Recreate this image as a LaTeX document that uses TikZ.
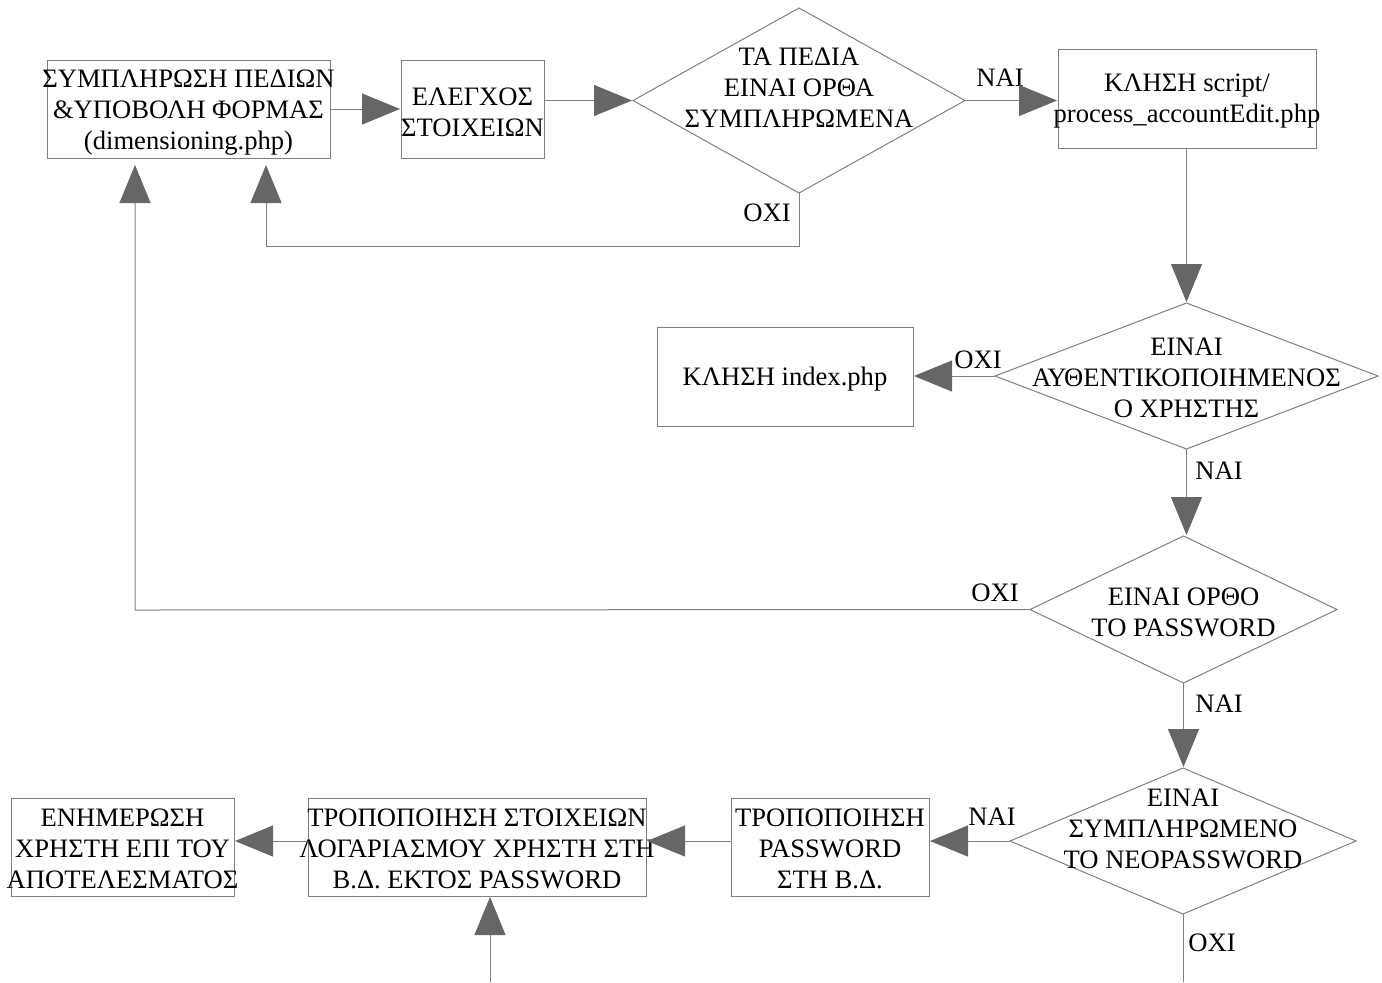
\documentclass[tikz,border=0pt]{standalone}
\usepackage{fontspec}
\setmainfont{Liberation Serif}
\usetikzlibrary{shapes.geometric,arrows.meta}
\definecolor{linegray}{HTML}{808080}
\definecolor{tipgray}{HTML}{666666}
\begin{document}
\begin{tikzpicture}[x=0.5pt,y=-0.5pt,
  box/.style={draw=linegray, line width=0.5pt, inner sep=0pt, outer sep=0pt},
  dec/.style={diamond, draw=linegray, line width=0.5pt, inner sep=0pt, outer sep=0pt},
  txt/.style={align=center, font=\fontsize{13.3pt}{15.5pt}\selectfont, inner sep=0pt},
  lbl/.style={font=\fontsize{13.3pt}{15.5pt}\selectfont, inner sep=0pt},
  line/.style={draw=linegray, line width=0.5pt},
  flow/.style={line, -{Triangle[length=19pt,width=15.5pt,color=tipgray]}, shorten >=0.5pt}]
\useasboundingbox (0,0) rectangle (1382,982);

% boxes and decisions
\node[box, minimum width=141.5pt, minimum height=49pt] (b1) at (188.5,109) {};
\node[box, minimum width=71.5pt, minimum height=49pt] (b2) at (472.5,109) {};
\node[dec, minimum width=166pt, minimum height=92.5pt] (d1) at (799,100.5) {};
\node[box, minimum width=129pt, minimum height=49.5pt] (b3) at (1187,98.5) {};
\node[dec, minimum width=191.5pt, minimum height=73pt] (d2) at (1186.5,376) {};
\node[box, minimum width=128pt, minimum height=49.5pt] (b4) at (785,376.5) {};
\node[dec, minimum width=153.5pt, minimum height=73.5pt] (d3) at (1183.5,609.5) {};
\node[dec, minimum width=173pt, minimum height=73pt] (d4) at (1183,841) {};
\node[box, minimum width=99pt, minimum height=49pt] (b5) at (830,847) {};
\node[box, minimum width=169pt, minimum height=49pt] (b6) at (477,847) {};
\node[box, minimum width=111.5pt, minimum height=49pt] (b7) at (122.5,847) {};

% texts
\node[txt] (t1) at (188.5,113) {ΣΥΜΠΛΗΡΩΣΗ ΠΕΔΙΩΝ\\\&ΥΠΟΒΟΛΗ ΦΟΡΜΑΣ\\(dimensioning.php)};
\node[txt] (t2) at (472.5,112) {ΕΛΕΓΧΟΣ\\ΣΤΟΙΧΕΙΩΝ};
\node[txt] (t3) at (799,88) {ΤΑ ΠΕΔΙΑ\\ΕΙΝΑΙ ΟΡΘΑ\\ΣΥΜΠΛΗΡΩΜΕΝΑ};
\node[txt] (t4) at (1187,101.5) {ΚΛΗΣΗ script/\\process\_accountEdit.php};
\node[txt] (t5) at (1186.5,378) {ΕΙΝΑΙ\\ΑΥΘΕΝΤΙΚΟΠΟΙΗΜΕΝΟΣ\\Ο ΧΡΗΣΤΗΣ};
\node[txt] (t6) at (785,379.5) {ΚΛΗΣΗ index.php};
\node[txt] (t7) at (1183.5,612) {ΕΙΝΑΙ ΟΡΘΟ\\ΤΟ PASSWORD};
\node[txt] (t8) at (1183,829) {ΕΙΝΑΙ\\ΣΥΜΠΛΗΡΩΜΕΝΟ\\ΤΟ ΝΕΟPASSWORD};
\node[txt] (t9) at (830,849) {ΤΡΟΠΟΠΟΙΗΣΗ\\PASSWORD\\ΣΤΗ Β.Δ.};
\node[txt] (t10) at (477,849) {ΤΡΟΠΟΠΟΙΗΣΗ ΣΤΟΙΧΕΙΩΝ\\ΛΟΓΑΡΙΑΣΜΟΥ ΧΡΗΣΤΗ ΣΤΗ\\Β.Δ. ΕΚΤΟΣ PASSWORD};
\node[txt] (t11) at (122.5,849) {ΕΝΗΜΕΡΩΣΗ\\ΧΡΗΣΤΗ ΕΠΙ ΤΟΥ\\ΑΠΟΤΕΛΕΣΜΑΤΟΣ};

% branch labels
\node[lbl] (l1) at (1000,78) {ΝΑΙ};
\node[lbl] (l2) at (767,213) {ΟΧΙ};
\node[lbl] (l3) at (978,360) {ΟΧΙ};
\node[lbl] (l4) at (1219,471) {ΝΑΙ};
\node[lbl] (l5) at (995,593) {ΟΧΙ};
\node[lbl] (l6) at (1219,704) {ΝΑΙ};
\node[lbl] (l7) at (992,817) {ΝΑΙ};
\node[lbl] (l8) at (1212,943) {ΟΧΙ};

% routing points
\coordinate (k1) at (266,246);
\coordinate (k2) at (135,610);
\coordinate (e1) at (1183,982);
\coordinate (e2) at (490,982);

% connectors
\draw[flow] (b1.east) -- (b2.west);
\draw[flow] (d1.west -| b2.east) -- (d1.west);
\draw[flow] (d1.east) -- (d1.east -| b3.west);
\draw[flow, shorten >=3.5pt] (d1.south) |- (k1) -- (k1 |- b1.south);
\draw[flow] (b3.south -| d2.north) -- (d2.north);
\draw[flow] (d2.west) -- (d2.west -| b4.east);
\draw[flow] (d2.south) -- (d2.south |- d3.north);
\draw[flow, shorten >=3.5pt] (d3.west) -- (k2) -- (k2 |- b1.south);
\draw[flow] (d3.south) -- (d3.south |- d4.north);
\draw[flow] (d4.west) -- (d4.west -| b5.east);
\draw[flow] (b5.west |- d4.west) -- (d4.west -| b6.east);
\draw[flow] (b6.west |- d4.west) -- (d4.west -| b7.east);
\draw[line] (d4.south) -- (e1);
\draw[flow] (e2) -- (e2 |- b6.south);
\end{tikzpicture}
\end{document}
